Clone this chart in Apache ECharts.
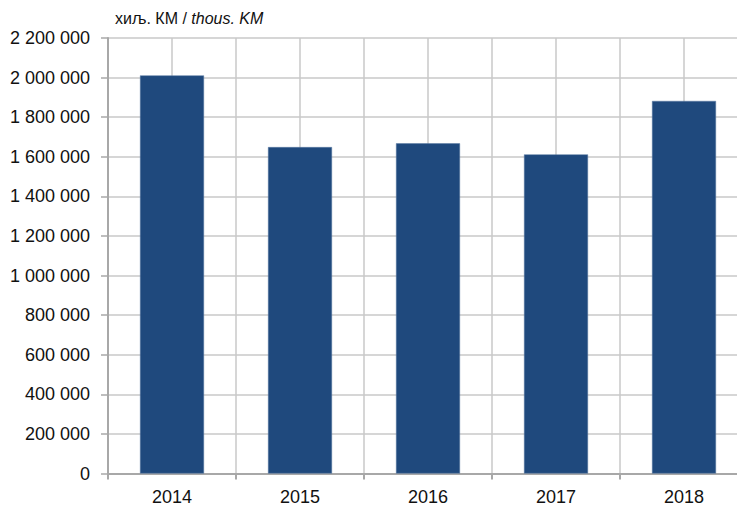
<!DOCTYPE html>
<html>
<head>
<meta charset="utf-8">
<script src="https://cdn.jsdelivr.net/npm/echarts@6/dist/echarts.min.js"></script>
<style>
  html, body { margin: 0; padding: 0; background: #fff; overflow: hidden; }
  #chart { width: 760px; height: 512px; }
</style>
</head>
<body>
<div id="chart"></div>
<script>
var years = ['2014', '2015', '2016', '2017', '2018'];
var values = [2011000, 1649000, 1668000, 1612000, 1882000];
var halfSlots = ['', '', '', '', '', '', '', '', '', ''];

var font = '"Liberation Sans Narrow", "Liberation Sans", sans-serif';
var gridColor = '#c8c8c8';
var axisColor = '#a8a8a8';

function fmt(v) {
  return String(v).replace(/\B(?=(\d{3})+(?!\d))/g, ' ');
}

// plot runs off the right edge in the reference, so the chart is wider than the window
var chart = echarts.init(document.getElementById('chart'), null, { renderer: 'svg' });
chart.setOption({
  animation: false,
  title: {
    text: '{a|хиљ. КМ / }{b|thous. KM}',
    left: 110, top: 5,
    textStyle: {
      fontWeight: 'normal',
      rich: {
        a: { fontFamily: font, fontSize: 16, color: '#111', fontWeight: 'normal' },
        b: { fontFamily: font, fontSize: 16, color: '#111', fontWeight: 'normal', fontStyle: 'italic' }
      }
    }
  },
  grid: { left: 108, width: 640, top: 38, height: 435.5 },
  xAxis: [{
    type: 'category', data: years, boundaryGap: true,
    axisLine: { lineStyle: { color: axisColor, width: 2 } },
    axisTick: { show: true, length: 6, lineStyle: { color: axisColor, width: 2 } },
    axisLabel: { color: '#111', fontFamily: font, fontSize: 18, margin: 14 },
    splitLine: { show: false }
  }, {
    type: 'category', data: halfSlots, boundaryGap: true, position: 'bottom',
    axisLine: { show: false }, axisTick: { show: false }, axisLabel: { show: false },
    splitLine: { show: true, interval: 0, lineStyle: { color: gridColor, width: 1.5 } }
  }],
  yAxis: {
    type: 'value', min: 0, max: 2200000, interval: 200000,
    axisLine: { show: true, lineStyle: { color: axisColor, width: 2 } },
    axisTick: { show: true, length: 7, lineStyle: { color: axisColor, width: 1.5 } },
    axisLabel: { color: '#111', fontFamily: font, fontSize: 18, margin: 18, formatter: fmt },
    splitLine: { lineStyle: { color: gridColor, width: 1.5 } }
  },
  series: [{
    type: 'bar', data: values, xAxisIndex: 0, barWidth: '50%',
    itemStyle: { color: '#1f497d', borderColor: '#5a7aa3', borderWidth: 0.5 }
  }]
});
</script>
</body>
</html>
